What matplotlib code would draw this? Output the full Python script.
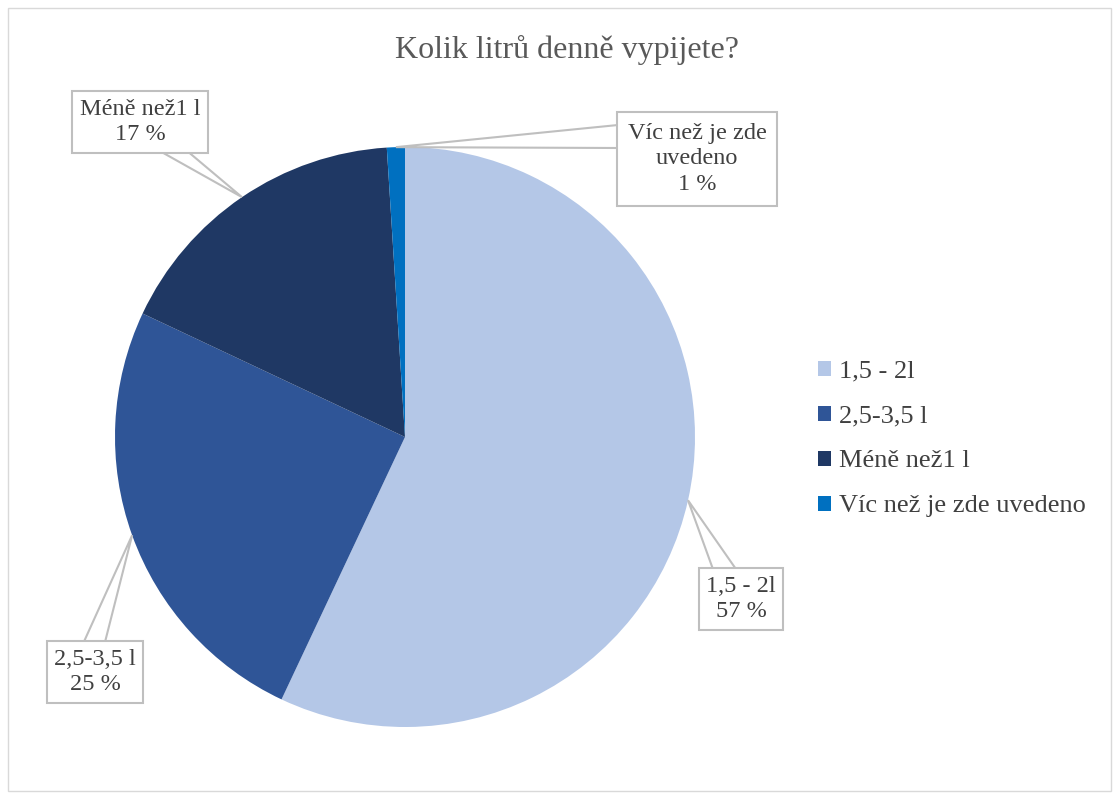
import numpy as np
import matplotlib.pyplot as plt
from matplotlib.patches import Rectangle, Polygon

plt.rcParams['font.family'] = ['Liberation Serif', 'DejaVu Serif']

# data
categories = ['1,5 - 2l', '2,5-3,5 l', 'Méně než1 l', 'Víc než je zde uvedeno']
values = [57, 25, 17, 1]
colors = ['#B4C7E7', '#2F5597', '#1F3864', '#0070C0']
label_texts = ['1,5 - 2l\n57 %', '2,5-3,5 l\n25 %', 'Méně než1 l\n17 %',
               'Víc než je zde\nuvedeno\n1 %']
title = 'Kolik litrů denně vypijete?'

W, H = 1119, 799
fig = plt.figure(figsize=(W / 100, H / 100), dpi=100)

def px(x, y):
    # pixel (from top-left) -> figure fraction
    return (x / W, 1 - y / H)

# pie axes: center (405, 437) px, radius 290 px
cx, cy, r = 405, 437, 290
ax = fig.add_axes([(cx - r) / W, (H - cy - r) / H, 2 * r / W, 2 * r / H])
wedges, _ = ax.pie(values, colors=colors, startangle=90, counterclock=False,
                   radius=1, wedgeprops=dict(linewidth=0))
ax.set_xlim(-1, 1)
ax.set_ylim(-1, 1)

# callout boxes: centre, padding and the two base points of the pointer (pixels)
label_pos = [(741, 599), (95, 672), (140, 122), (697, 159)]
label_pad = [0.3, 0.3, 0.3, 0.45]
pointer_base = [[(714, 572), (738, 572)],
                [(82, 646), (104, 646)],
                [(158, 150), (186, 150)],
                [(618, 125), (618, 148)]]
for w, txt, (lx, ly), pad, base in zip(wedges, label_texts, label_pos,
                                       label_pad, pointer_base):
    ang = np.deg2rad((w.theta1 + w.theta2) / 2)
    tip = (cx + r * np.cos(ang), cy - r * np.sin(ang))
    poly = Polygon([px(*base[0]), px(*tip), px(*base[1])], closed=False,
                   transform=fig.transFigure, fill=False, ec='#BFBFBF',
                   lw=1.5, zorder=2)
    fig.patches.append(poly)
    fig.text(*px(lx, ly), txt, ha='center', va='center', fontsize=17.5,
             color='#404040', linespacing=1.3, zorder=5,
             bbox=dict(boxstyle='square,pad=%s' % pad, fc='white',
                       ec='#BFBFBF', lw=1.5))

fig.text(*px(567, 50), title, ha='center', va='center',
         fontsize=23, color='#595959')

ax.legend(wedges, categories, loc='center left',
          bbox_to_anchor=px(794, 439), bbox_transform=fig.transFigure,
          frameon=False, fontsize=19, labelcolor='#404040',
          handlelength=0.5, handleheight=0.5, handletextpad=0.3,
          labelspacing=0.87)

fig.patches.append(Rectangle((8 / W, 8 / H), 1 - 16 / W, 1 - 16 / H,
                             transform=fig.transFigure, fill=False,
                             ec='#D9D9D9', lw=1))

fig.savefig('out.png', dpi=100)
